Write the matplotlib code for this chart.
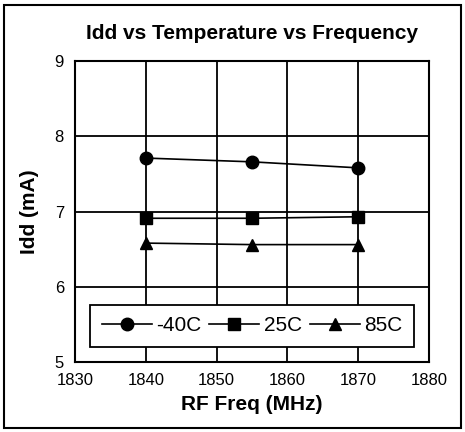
import matplotlib
matplotlib.use("Agg")
import matplotlib.pyplot as plt
from matplotlib.patches import Rectangle

freq = [1840, 1855, 1870]
idd_m40 = [7.71, 7.66, 7.58]
idd_25 = [6.91, 6.91, 6.93]
idd_85 = [6.58, 6.56, 6.56]
labels = ["-40C", "25C", "85C"]

plt.rcParams['font.family'] = ['Liberation Sans', 'DejaVu Sans']

fig = plt.figure(figsize=(4.65, 4.32), dpi=100)
ax = fig.add_axes([75/465, 1 - 362/432, (429-75)/465, (362-61)/432])

ax.plot(freq, idd_m40, color="black", lw=1.2, marker="o", ms=9, label=labels[0])
ax.plot(freq, idd_25, color="black", lw=1.2, marker="s", ms=8, mfc="black",
        mec="black", label=labels[1])
ax.plot(freq, idd_85, color="black", lw=1.2, marker="^", ms=9, label=labels[2])

ax.set_xlim(1830, 1880)
ax.set_ylim(5, 9)
ax.set_xticks(range(1830, 1881, 10))
ax.set_yticks(range(5, 10))
ax.grid(True, color="black", lw=1.3)
ax.tick_params(length=0, labelsize=12, pad=8)
for s in ax.spines.values():
    s.set_linewidth(1.5)

ax.set_title("Idd vs Temperature vs Frequency", fontweight="bold",
             fontsize=15, pad=16)
ax.set_xlabel("RF Freq (MHz)", fontweight="bold", fontsize=15, labelpad=5)
ax.set_ylabel("Idd (mA)", fontweight="bold", fontsize=15, labelpad=11)

leg = ax.legend(loc="lower center", bbox_to_anchor=(0.5, 0.05), borderaxespad=0,
                ncol=3, fontsize=15,
                frameon=True, fancybox=False, edgecolor="black", framealpha=1,
                handlelength=2.4, handletextpad=0.2, columnspacing=0.4,
                borderpad=0.55)
leg.get_frame().set_linewidth(1.3)

fig.patches.append(Rectangle((4/465, 4/432), 457/465, 423/432, transform=fig.transFigure,
                             fill=False, edgecolor="black", lw=1.5))

fig.savefig("out.png", dpi=100, facecolor="white")
